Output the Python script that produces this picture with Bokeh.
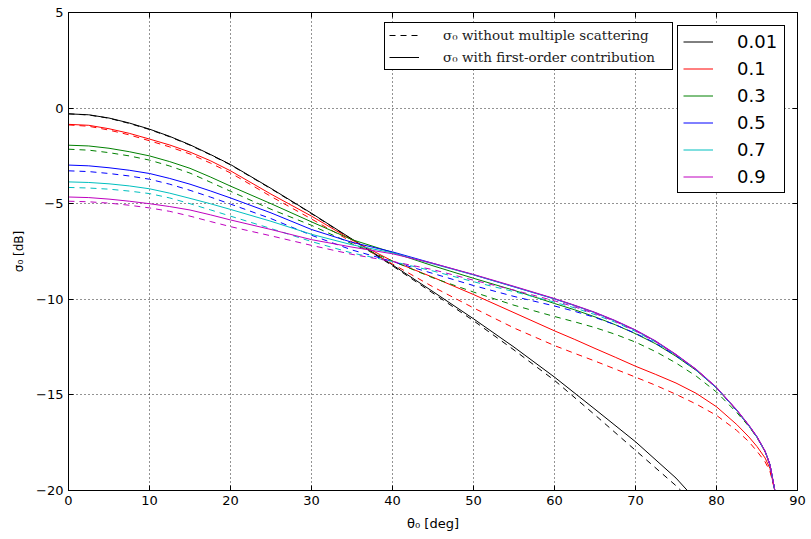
from bokeh.plotting import figure
from bokeh.models import (Legend, LegendItem, LinearAxis, FixedTicker,
                          CustomJSTickFormatter, Range1d)
from bokeh.embed import file_html
from bokeh.resources import INLINE

# ---------------- data ----------------
theta = [0, 2.5, 5, 7.5, 10, 12.5, 15, 17.5, 20, 25, 30, 35, 40, 45, 50, 55,
         60, 62.5, 65, 67.5, 70, 72.5, 75, 77.5, 80, 82.5, 84, 85, 86, 86.6, 87.2]

theta_k_solid = [0, 2.5, 5, 7.5, 10, 12.5, 15, 17.5, 20, 25, 30, 35, 40, 45, 50,
                 55, 60, 65, 70, 75, 76.4]
theta_k_dashed = [0, 2.5, 5, 7.5, 10, 12.5, 15, 17.5, 20, 25, 30, 35, 40, 45, 50,
                  55, 60, 65, 70, 75, 75.6]

k_solid = [-0.3, -0.35, -0.52, -0.78, -1.1, -1.48, -1.92, -2.42, -2.95, -4.2, -5.5,
           -6.85, -8.2, -9.6, -11.02, -12.5, -14.07, -15.75, -17.45, -19.35, -20.0]
k_dashed = [-0.3, -0.36, -0.53, -0.8, -1.12, -1.5, -1.94, -2.44, -2.97, -4.22, -5.52,
            -6.87, -8.25, -9.68, -11.12, -12.65, -14.24, -16.05, -17.9, -19.75, -20.0]

r_solid = [-0.85, -0.9, -1.08, -1.32, -1.62, -1.93, -2.3, -2.75, -3.28, -4.5, -5.65,
           -6.9, -8.0, -8.85, -9.75, -10.7, -11.65, -12.1, -12.57, -13.03, -13.5,
           -13.93, -14.38, -14.92, -15.62, -16.55, -17.2, -17.7, -18.3, -18.85, -20.0]
r_dashed = [-0.88, -0.95, -1.15, -1.4, -1.71, -2.03, -2.4, -2.87, -3.39, -4.62, -5.8,
            -7.0, -8.15, -9.35, -10.45, -11.5, -12.42, -12.83, -13.23, -13.65, -14.07,
            -14.5, -14.97, -15.48, -16.07, -16.86, -17.45, -17.95, -18.5, -19.0, -20.0]

g_solid = [-1.94, -1.98, -2.1, -2.28, -2.5, -2.8, -3.15, -3.6, -4.08, -5.0, -5.95,
           -6.88, -7.55, -8.25, -8.9, -9.53, -10.22, -10.55, -10.92, -11.33, -11.8,
           -12.33, -12.98, -13.72, -14.64, -15.82, -16.62, -17.22, -17.96, -18.66, -20.0]
g_dashed = [-2.15, -2.2, -2.33, -2.5, -2.72, -3.03, -3.4, -3.87, -4.35, -5.29, -6.13,
            -7.1, -8.0, -8.88, -9.62, -10.31, -10.9, -11.18, -11.48, -11.83, -12.24,
            -12.74, -13.33, -14.02, -14.85, -15.92, -16.65, -17.23, -17.97, -18.67, -20.0]

b_solid = [-2.98, -3.02, -3.12, -3.25, -3.42, -3.68, -3.98, -4.33, -4.7, -5.48, -6.35,
           -7.02, -7.52, -8.12, -8.72, -9.35, -9.98, -10.33, -10.7, -11.13, -11.62,
           -12.2, -12.9, -13.68, -14.62, -15.8, -16.6, -17.2, -17.95, -18.65, -20.0]
b_dashed = [-3.28, -3.32, -3.42, -3.55, -3.72, -3.98, -4.3, -4.65, -5.02, -5.78, -6.65,
            -7.42, -8.02, -8.65, -9.28, -9.85, -10.35, -10.63, -10.95, -11.33, -11.78,
            -12.3, -12.95, -13.7, -14.64, -15.82, -16.61, -17.21, -17.96, -18.66, -20.0]

c_solid = [-3.86, -3.89, -3.96, -4.07, -4.22, -4.45, -4.72, -5.0, -5.3, -5.92, -6.6,
           -7.15, -7.57, -8.15, -8.72, -9.34, -9.98, -10.33, -10.7, -11.13, -11.62,
           -12.2, -12.9, -13.68, -14.62, -15.8, -16.6, -17.2, -17.95, -18.65, -20.0]
c_dashed = [-4.15, -4.18, -4.24, -4.34, -4.47, -4.7, -5.0, -5.32, -5.65, -6.3, -6.98,
            -7.58, -8.02, -8.52, -9.08, -9.6, -10.15, -10.45, -10.8, -11.2, -11.68,
            -12.24, -12.92, -13.69, -14.63, -15.81, -16.6, -17.2, -17.95, -18.65, -20.0]

m_solid = [-4.65, -4.68, -4.76, -4.87, -5.0, -5.15, -5.33, -5.58, -5.85, -6.35, -6.88,
           -7.27, -7.62, -8.12, -8.7, -9.32, -9.96, -10.31, -10.68, -11.11, -11.6,
           -12.18, -12.88, -13.66, -14.6, -15.78, -16.58, -17.18, -17.94, -18.64, -20.0]
m_dashed = [-4.87, -4.9, -4.97, -5.08, -5.22, -5.4, -5.65, -5.93, -6.2, -6.68, -7.18,
            -7.65, -8.02, -8.45, -9.0, -9.52, -10.08, -10.4, -10.75, -11.16, -11.65,
            -12.22, -12.91, -13.68, -14.62, -15.8, -16.6, -17.2, -17.95, -18.65, -20.0]

albedo_labels = ["0.01", "0.1", "0.3", "0.5", "0.7", "0.9"]
colors = ["#000000", "#ff0000", "#008000", "#0000ff", "#00bfbf", "#bf00bf"]

x_ticks = [0, 10, 20, 30, 40, 50, 60, 70, 80, 90]
y_ticks = [-20, -15, -10, -5, 0, 5]

style_labels = ["\u03c3\u2080 without multiple scattering",
                "\u03c3\u2080 with first-order contribution"]

# ---------------- figure ----------------
p = figure(width=811, height=539, x_range=Range1d(0, 90), y_range=Range1d(-20, 5),
           output_backend="svg", toolbar_location=None,
           min_border_left=68, min_border_right=14, min_border_top=12,
           min_border_bottom=49)
p.background_fill_color = "white"
p.border_fill_color = "white"
p.outline_line_color = "black"
p.outline_line_width = 1
p.outline_line_alpha = 1

DASH = "6 5"
series = [
    (theta_k_solid, k_solid, theta_k_dashed, k_dashed),
    (theta, r_solid, theta, r_dashed),
    (theta, g_solid, theta, g_dashed),
    (theta, b_solid, theta, b_dashed),
    (theta, c_solid, theta, c_dashed),
    (theta, m_solid, theta, m_dashed),
]
solid_renderers = []
for (xs, ys, xd, yd), col in zip(series, colors):
    p.line(xd, yd, line_color=col, line_width=1, line_dash=DASH)
    r = p.line(xs, ys, line_color=col, line_width=1)
    solid_renderers.append(r)

# ---------------- axes ----------------
minus_fmt = CustomJSTickFormatter(code="""
    return tick < 0 ? '\\u2212' + Math.abs(tick) : tick.toString();
""")

for ax in p.xaxis:
    ax.ticker = FixedTicker(ticks=x_ticks)
for ax in p.yaxis:
    ax.ticker = FixedTicker(ticks=y_ticks)
    ax.formatter = minus_fmt

for ax in list(p.xaxis) + list(p.yaxis):
    ax.major_tick_in = 5
    ax.major_tick_out = 0
    ax.minor_tick_in = 0
    ax.minor_tick_out = 0
    ax.axis_line_color = "black"
    ax.major_tick_line_color = "black"
    ax.major_label_text_font = "DejaVu Sans"
    ax.major_label_text_font_size = "13px"
    ax.major_label_text_color = "black"
    ax.major_label_standoff = 5
    ax.axis_label_text_font = "DejaVu Sans"
    ax.axis_label_text_font_size = "13px"
    ax.axis_label_text_font_style = "normal"
    ax.axis_label_text_color = "black"

p.xaxis.axis_label = "\u03b8\u2080 [deg]"
p.xaxis.axis_label_standoff = 8
p.yaxis.axis_label = "\u03c3\u2080 [dB]"
p.yaxis.axis_label_standoff = 7
p.yaxis.axis_label_text_font_size = "12px"

top = LinearAxis(ticker=FixedTicker(ticks=x_ticks), major_label_text_font_size="1px",
                 major_label_text_color=None,
                 major_tick_in=5, major_tick_out=0, minor_tick_in=0, minor_tick_out=0,
                 axis_line_color="black", major_label_standoff=0)
right = LinearAxis(ticker=FixedTicker(ticks=y_ticks), major_label_text_font_size="1px",
                   major_label_text_color=None,
                   major_tick_in=5, major_tick_out=0, minor_tick_in=0, minor_tick_out=0,
                   axis_line_color="black", major_label_standoff=0)
p.add_layout(top, "above")
p.add_layout(right, "right")

for g in (p.xgrid[0], p.ygrid[0]):
    g.grid_line_color = "black"
    g.grid_line_dash = "1 3"
    g.grid_line_width = 1
    g.grid_line_alpha = 0.85

# ---------------- legends ----------------
# legend-only renderers, their points lie outside the visible ranges
d1 = p.line([-100, -99], [-100, -100], line_color="black", line_width=1, line_dash=DASH)
d2 = p.line([-100, -99], [-100, -100], line_color="black", line_width=1)
leg1 = Legend(items=[LegendItem(label=style_labels[0], renderers=[d1]),
                     LegendItem(label=style_labels[1], renderers=[d2])],
              location=(316, 420))
leg1.label_text_font = "DejaVu Serif"
leg1.label_text_font_size = "13.5px"
leg1.label_text_color = "#222222"
leg1.padding = 4
leg1.spacing = 6
leg1.glyph_width = 30
leg1.glyph_height = 16
leg1.label_height = 16
leg1.label_width = 225
leg1.label_standoff = 24
leg1.border_line_color = "black"
leg1.border_line_width = 1
leg1.border_line_alpha = 1
leg1.background_fill_alpha = 1
leg1.margin = 0
p.add_layout(leg1)

leg2 = Legend(items=[LegendItem(label=lab, renderers=[r])
                     for lab, r in zip(albedo_labels, solid_renderers)],
              location=(609, 297))
leg2.label_text_font = "DejaVu Sans"
leg2.label_text_font_size = "18px"
leg2.label_text_color = "black"
leg2.padding = 5
leg2.spacing = 6
leg2.glyph_width = 30
leg2.glyph_height = 21
leg2.label_height = 21
leg2.label_width = 42
leg2.label_standoff = 24
leg2.border_line_color = "black"
leg2.border_line_width = 1
leg2.border_line_alpha = 1
leg2.background_fill_alpha = 1
leg2.margin = 0
p.add_layout(leg2)

open("out.html", "w").write(file_html(p, INLINE))
